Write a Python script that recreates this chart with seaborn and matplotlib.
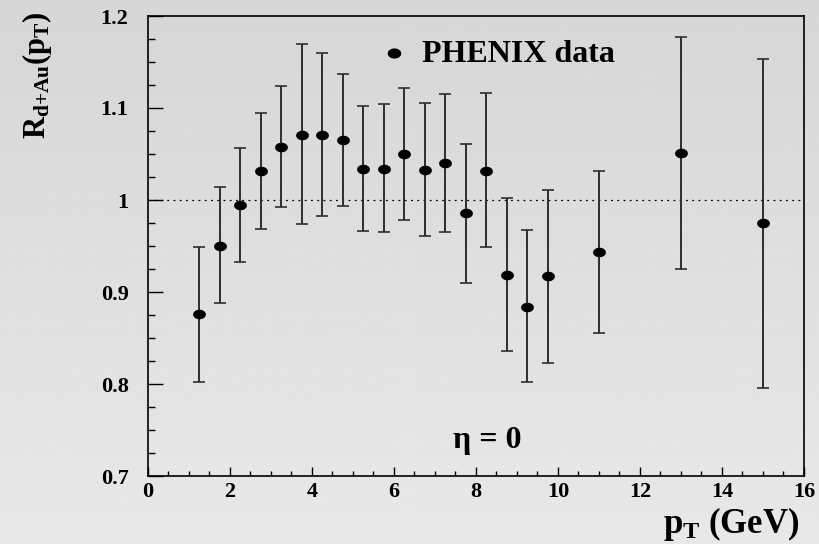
import numpy as np
import pandas as pd
import matplotlib
matplotlib.use("Agg")
import matplotlib.pyplot as plt
import seaborn as sns
from matplotlib.path import Path
from matplotlib.ticker import MultipleLocator

# ---- data ----
pt = [1.25, 1.75, 2.25, 2.75, 3.25, 3.75, 4.25, 4.75, 5.25, 5.75, 6.25, 6.75,
      7.25, 7.75, 8.25, 8.75, 9.25, 9.75, 11.0, 13.0, 15.0]
rdau = [0.876, 0.950, 0.995, 1.032, 1.058, 1.071, 1.071, 1.065, 1.034, 1.034,
        1.050, 1.033, 1.040, 0.986, 1.032, 0.919, 0.884, 0.917, 0.943, 1.051, 0.975]
err_up = [0.073, 0.064, 0.061, 0.063, 0.066, 0.099, 0.089, 0.072, 0.068, 0.070,
          0.072, 0.072, 0.075, 0.075, 0.084, 0.083, 0.083, 0.094, 0.089, 0.126, 0.178]
err_lo = [0.074, 0.062, 0.062, 0.064, 0.066, 0.097, 0.088, 0.072, 0.068, 0.069,
          0.072, 0.072, 0.075, 0.076, 0.083, 0.083, 0.082, 0.094, 0.088, 0.126, 0.179]
x_ticks = [0, 2, 4, 6, 8, 10, 12, 14, 16]
y_ticks = [0.7, 0.8, 0.9, 1.0, 1.1, 1.2]
y_ticklabels = ["0.7", "0.8", "0.9", "1", "1.1", "1.2"]
legend_label = "PHENIX data"
annot = "η = 0"

df = pd.DataFrame({"pt": pt, "rdau": rdau})

sns.set_theme(style="white")
plt.rcParams["font.family"] = ["Liberation Serif", "DejaVu Serif"]
plt.rcParams["font.weight"] = "bold"
plt.rcParams["text.color"] = "black"
plt.rcParams["axes.labelcolor"] = "black"
plt.rcParams["xtick.color"] = "black"
plt.rcParams["ytick.color"] = "black"
plt.rcParams["mathtext.fontset"] = "custom"
plt.rcParams["mathtext.rm"] = "Liberation Serif:bold"
plt.rcParams["mathtext.bf"] = "Liberation Serif:bold"
plt.rcParams["mathtext.it"] = "Liberation Serif:italic:bold"

fig = plt.figure(figsize=(8.2, 5.44), dpi=100)

# background gradient
bg = fig.add_axes([0, 0, 1, 1], zorder=-10)
bg.imshow(np.linspace(214, 232, 256).reshape(-1, 1), aspect="auto", cmap="gray",
          vmin=0, vmax=255, extent=[0, 1, 0, 1], origin="upper")
bg.set_axis_off()

ax = fig.add_axes([148 / 820, 68 / 544, 656 / 820, 460 / 544])
ax.set_facecolor("none")

# ellipse marker (wider than tall)
t = np.linspace(0, 2 * np.pi, 60)
ell = Path(np.column_stack([np.cos(t), 0.75 * np.sin(t)]))

ax.errorbar(pt, rdau, yerr=[err_lo, err_up], fmt="none", ecolor="#2e2e2e",
            elinewidth=1.4, capsize=4.5, capthick=1.2, zorder=2)
sns.scatterplot(data=df, x="pt", y="rdau", marker=ell, s=85, color="black",
                edgecolor="black", linewidth=0, ax=ax, zorder=3, legend=False)

ax.axhline(1.0, color="black", lw=0.9, linestyle=(0, (1.5, 3.5)), zorder=1)

ax.set_xlim(0, 16)
ax.set_ylim(0.7, 1.2)
ax.set_xticks(x_ticks)
ax.set_xticklabels([str(v) for v in x_ticks])
ax.set_yticks(y_ticks)
ax.set_yticklabels(y_ticklabels)
ax.xaxis.set_minor_locator(MultipleLocator(0.5))
ax.yaxis.set_minor_locator(MultipleLocator(0.025))
ax.tick_params(axis="x", which="major", direction="in", length=6.7, width=1,
               labelsize=16, pad=4, colors="black")
ax.tick_params(axis="x", which="minor", direction="in", length=3.6, width=1)
ax.tick_params(axis="y", which="major", direction="in", length=10.5, width=1,
               labelsize=16, pad=14, colors="black")
ax.tick_params(axis="y", which="minor", direction="in", length=5.2, width=1)
ax.tick_params(top=False, right=False, which="both", bottom=True, left=True)
for lab in ax.get_xticklabels() + ax.get_yticklabels():
    lab.set_fontweight("bold")
for sp in ax.spines.values():
    sp.set_visible(True)
    sp.set_color("black")
    sp.set_linewidth(1.2)
ax.set_xlabel("")
ax.set_ylabel("")

# legend-like entry
ax.scatter([6.0], [1.160], marker=ell, s=95, color="black", linewidth=0, zorder=3)
ax.text(6.68, 1.150, legend_label, fontsize=23, fontweight="bold", color="black",
        va="baseline", ha="left")

# eta annotation
ax.text(7.45, 0.730, annot, fontsize=23, fontweight="bold", color="black",
        va="baseline", ha="left")

# axis titles
fig.text(800 / 820, 1 - 533 / 544, r"$\mathbf{p_T}$ (GeV)", fontsize=25,
         fontweight="bold", color="black", ha="right", va="baseline")
fig.text(37 / 820, 1 - 75 / 544,
         r"$\mathrm{R}_{\mathrm{d{+}Au}}(\mathrm{p}_{\mathrm{T}})$",
         fontsize=22, rotation=90, color="black", ha="center", va="center")

fig.savefig("out.png", dpi=100)
